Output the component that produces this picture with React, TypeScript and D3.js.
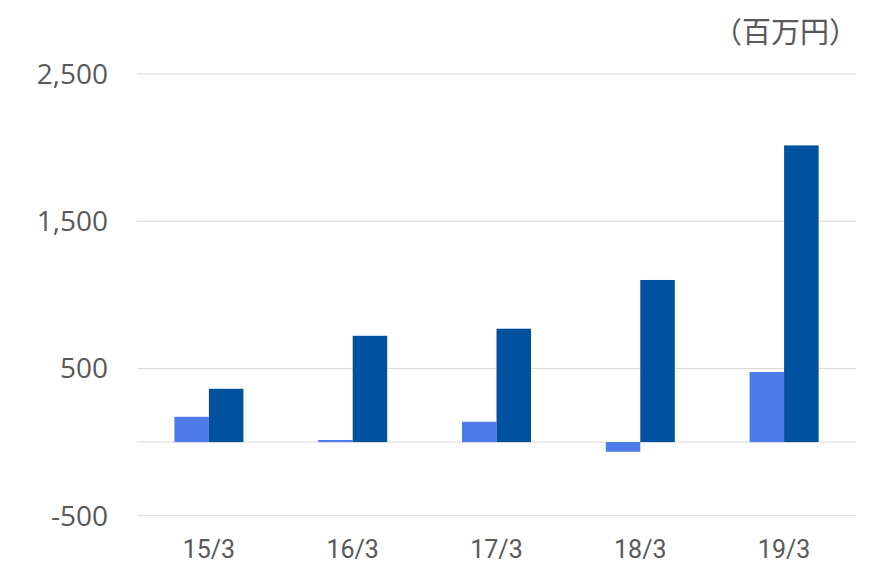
import React, { useEffect, useRef } from 'react';
import * as d3 from 'd3';

const categories = ['15/3', '16/3', '17/3', '18/3', '19/3'];
const seriesLight = [172, 14, 138, -66, 476];
const seriesDark = [362, 722, 770, 1101, 2015];
const yTicks = [-500, 500, 1500, 2500];
const unitLabel = '（百万円）';

const App = () => {
  const svgRef = useRef<SVGSVGElement | null>(null);

  useEffect(() => {
    const w = 869;
    const h = 567;
    const svg = d3.select(svgRef.current).attr('width', w).attr('height', h);
    svg.selectAll('*').remove();

    const x = d3
      .scaleBand()
      .domain(categories)
      .range([137, 856])
      .paddingInner(0.52)
      .paddingOuter(0.26);
    const xs = d3.scaleBand().domain(['a', 'b']).range([0, x.bandwidth()]);
    const y = d3.scaleLinear().domain([-500, 2500]).range([515.7, 74]);

    // gridlines
    svg
      .append('g')
      .selectAll('line')
      .data([...yTicks, 0])
      .join('line')
      .attr('x1', 137)
      .attr('x2', 856)
      .attr('y1', (d) => y(d))
      .attr('y2', (d) => y(d))
      .attr('stroke', '#d9d9d9')
      .attr('stroke-width', 1);

    // y labels (plain hyphen for negatives)
    svg
      .append('g')
      .selectAll('text')
      .data(yTicks)
      .join('text')
      .attr('x', 108)
      .attr('y', (d) => y(d) + 10)
      .attr('text-anchor', 'end')
      .attr('fill', '#595959')
      .style('font-family', '"Open Sans", sans-serif')
      .style('font-size', '28px')
      .text((d) => d3.format(',')(d).replace('\u2212', '-'));

    const rows = categories.map((c, i) => ({ c, a: seriesLight[i], b: seriesDark[i] }));

    const bars = svg.append('g');
    bars
      .selectAll('rect.a')
      .data(rows)
      .join('rect')
      .attr('class', 'a')
      .attr('x', (d) => x(d.c)! + xs('a')!)
      .attr('width', xs.bandwidth())
      .attr('y', (d) => y(Math.max(0, d.a)))
      .attr('height', (d) => Math.abs(y(d.a) - y(0)))
      .attr('fill', '#4F7BE9');
    bars
      .selectAll('rect.b')
      .data(rows)
      .join('rect')
      .attr('class', 'b')
      .attr('x', (d) => x(d.c)! + xs('b')!)
      .attr('width', xs.bandwidth())
      .attr('y', (d) => y(Math.max(0, d.b)))
      .attr('height', (d) => Math.abs(y(d.b) - y(0)))
      .attr('fill', '#00519E');

    // x labels
    svg
      .append('g')
      .selectAll('text')
      .data(categories)
      .join('text')
      .attr('x', (d) => x(d)! + x.bandwidth() / 2)
      .attr('y', 558)
      .attr('text-anchor', 'middle')
      .attr('fill', '#595959')
      .style('font-family', '"Liberation Sans Narrow", Roboto, sans-serif')
      .style('font-size', '25px')
      .text((d) => d);

    // unit
    svg
      .append('text')
      .attr('x', 858)
      .attr('y', 43)
      .attr('text-anchor', 'end')
      .attr('fill', '#595959')
      .style('font-family', '"Noto Sans CJK JP", sans-serif')
      .style('font-size', '29px')
      .text(unitLabel);
  }, []);

  return (
    <div>
      <svg ref={svgRef} style={{ position: 'absolute', left: 0, top: 0, background: '#fff' }}></svg>
    </div>
  );
};

export default App;
